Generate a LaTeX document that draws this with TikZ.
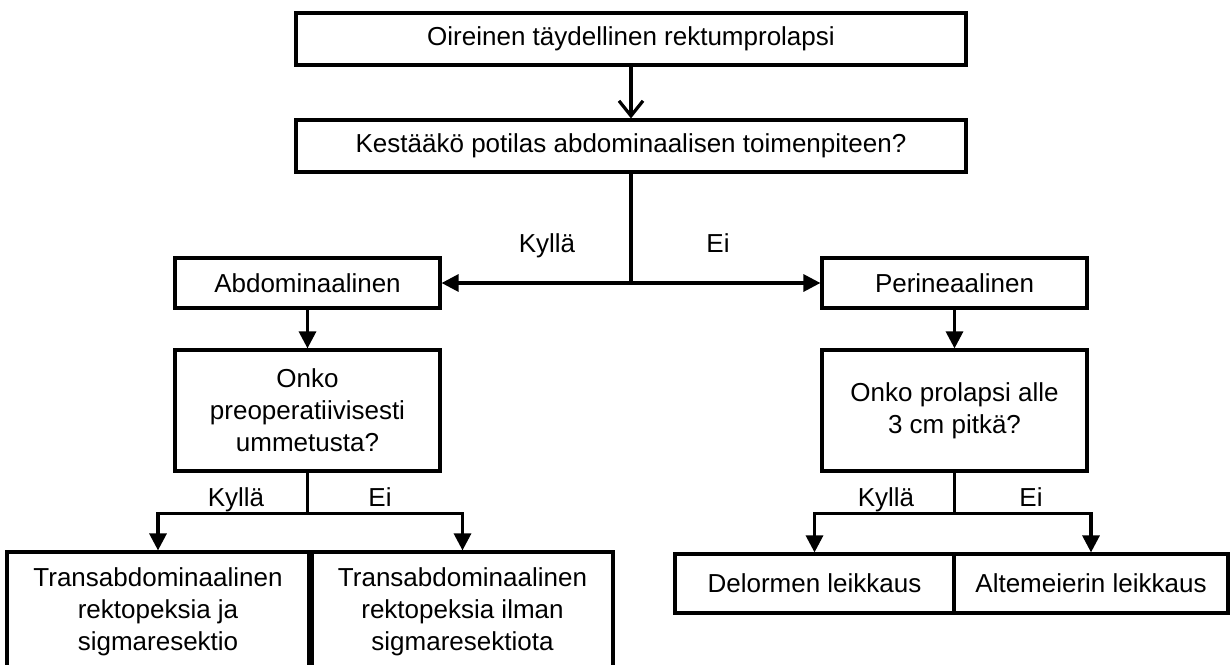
\documentclass[tikz,border=0pt]{standalone}
\usepackage{fontspec}
\setmainfont{Liberation Sans}
\usetikzlibrary{arrows.meta,positioning}

\begin{document}
\begin{tikzpicture}[
  x=1pt, y=-1pt,
  >={Triangle[length=17pt,width=17pt]},
  line width=3.2pt,
  box/.style={
    rectangle, draw, line width=3.2pt, inner sep=0pt,
    font=\fontsize{26}{32}\selectfont, align=center
  },
  lbl/.style={font=\fontsize{26}{32}\selectfont, inner sep=0pt, anchor=base}
]
\useasboundingbox (0,0) rectangle (1230,664);

% Alku
\node[box, minimum width=670pt, minimum height=52pt] (oire) at (631, 39) {Oireinen täydellinen rektumprolapsi};
\node[box, minimum width=670pt, minimum height=52pt] (kesta) at (631,146) {Kestääkö potilas abdominaalisen toimenpiteen?};

% Haarat
\node[box, minimum width=265pt, minimum height=50pt] (abdo) at (307.5,283) {Abdominaalinen};
\node[box, minimum width=265pt, minimum height=50pt] (peri) at (954.5,283) {Perineaalinen};

% Kysymykset
\node[box, minimum width=265pt, minimum height=121pt] (umme) at (307.5,410.5) {Onko\\preoperatiivisesti\\ummetusta?};
\node[box, minimum width=265pt, minimum height=121pt] (pitka) at (954.5,410.5) {Onko prolapsi alle\\3 cm pitkä?};

% Leikkaukset
\node[box, minimum width=302pt, minimum height=120pt] (tra_ja)   at (158,612)   {Transabdominaalinen\\rektopeksia ja\\sigmaresektio};
\node[box, minimum width=301pt, minimum height=120pt] (tra_ilm)  at (462.5,612) {Transabdominaalinen\\rektopeksia ilman\\sigmaresektiota};
\node[box, minimum width=279pt, minimum height=59pt]  (delorme)  at (814.5,583.5) {Delormen leikkaus};
\node[box, minimum width=274pt, minimum height=59pt]  (altem)    at (1091,583.5)  {Altemeierin leikkaus};

% Nuolet
\draw[-{Straight Barb[length=15pt,width=24pt]}] (oire) -- (kesta);

\coordinate (j_ab) at (kesta.south |- abdo.east);
\draw (kesta) -- (j_ab);
\draw[->] (j_ab) -- (abdo);
\draw[->] (j_ab) -- (peri);
\node[lbl] (k1) at (547,252) {Kyllä};
\node[lbl] (e1) at (718,252) {Ei};

\draw[->] (abdo) -- (umme);
\draw[->] (peri) -- (pitka);

\draw (umme.south) -- ++(0,41) coordinate (j_um);
\draw[->] (j_um) -| (tra_ja);
\draw[->] (j_um) -| (tra_ilm);
\node[lbl] (k2) at (236,506) {Kyllä};
\node[lbl] (e2) at (380,506) {Ei};

\draw (pitka.south) -- ++(0,41) coordinate (j_pi);
\draw[->] (j_pi) -| (delorme);
\draw[->] (j_pi) -| (altem);
\node[lbl] (k3) at (886,506) {Kyllä};
\node[lbl] (e3) at (1031,506) {Ei};

\end{tikzpicture}
\end{document}
